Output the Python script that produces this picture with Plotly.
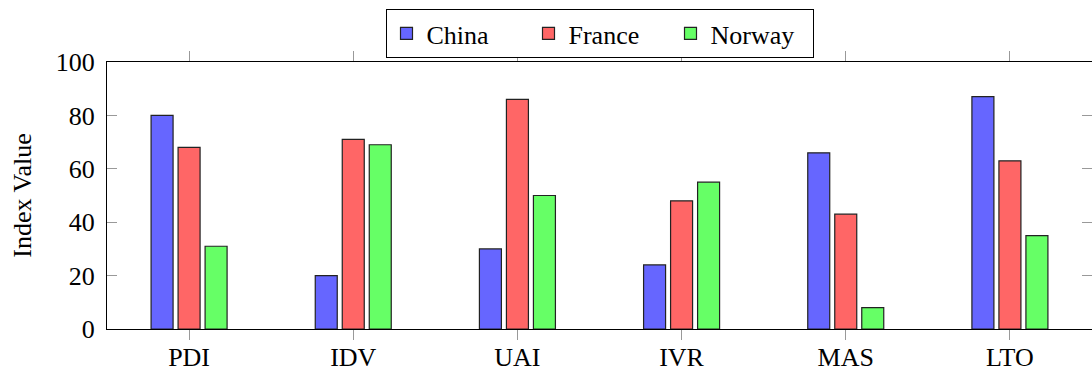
import plotly.graph_objects as go

categories = ["PDI", "IDV", "UAI", "IVR", "MAS", "LTO"]
china = [80, 20, 30, 24, 66, 87]
france = [68, 71, 86, 48, 43, 63]
norway = [31, 69, 50, 55, 8, 35]
y_ticks = [0, 20, 40, 60, 80, 100]

FONT = "Liberation Serif"
series = [("China", china, "#6666FF"), ("France", france, "#FF6666"), ("Norway", norway, "#66FF66")]
bar_w = 0.134
step = 0.1645
positions = list(range(len(categories)))

fig = go.Figure()
for i, (name, vals, col) in enumerate(series):
    center = (i - 1) * step
    fig.add_trace(go.Bar(
        x=positions, y=vals, name=name,
        width=bar_w, offset=center - bar_w / 2,
        marker=dict(color=col, line=dict(color="#222", width=1.2)),
    ))

fig.update_layout(
    width=1092, height=374,
    margin=dict(l=107, r=0, t=62, b=45, autoexpand=False),
    paper_bgcolor="white", plot_bgcolor="white",
    barmode="overlay",
    font=dict(family=FONT, size=26, color="black"),
    showlegend=True,
    legend=dict(
        orientation="h", x=0.5, xanchor="center", y=1.015, yanchor="bottom",
        bordercolor="black", borderwidth=1, bgcolor="white",
        font=dict(family=FONT, size=26, color="black"), entrywidth=97, entrywidthmode="pixels",
        tracegroupgap=0, itemwidth=30,
    ),
    xaxis=dict(
        range=[-0.5, 5.5], tickmode="array", tickvals=positions,
        ticktext=categories, ticks="outside", ticklen=5, tickcolor="#999",
        minor=dict(tickmode="array", tickvals=positions, ticks="outside", ticklen=10, tickcolor="#999"),
        showline=True, linecolor="black", linewidth=1, mirror="ticks",
        showgrid=False, zeroline=False, fixedrange=True, automargin=False,
    ),
    yaxis=dict(
        range=[0, 100], tickvals=y_ticks, ticks="inside", ticklen=10, tickcolor="#999",
        showline=True, linecolor="black", linewidth=1, mirror="ticks",
        showgrid=False, zeroline=False, ticklabelstandoff=6, automargin=False,
        title=dict(text="Index Value", standoff=16, font=dict(family=FONT, size=26)),
    ),
)

fig.write_html(
    "out.html",
    config={"displayModeBar": False},
    post_script="document.body.style.margin='0';document.body.style.overflow='hidden';",
)
